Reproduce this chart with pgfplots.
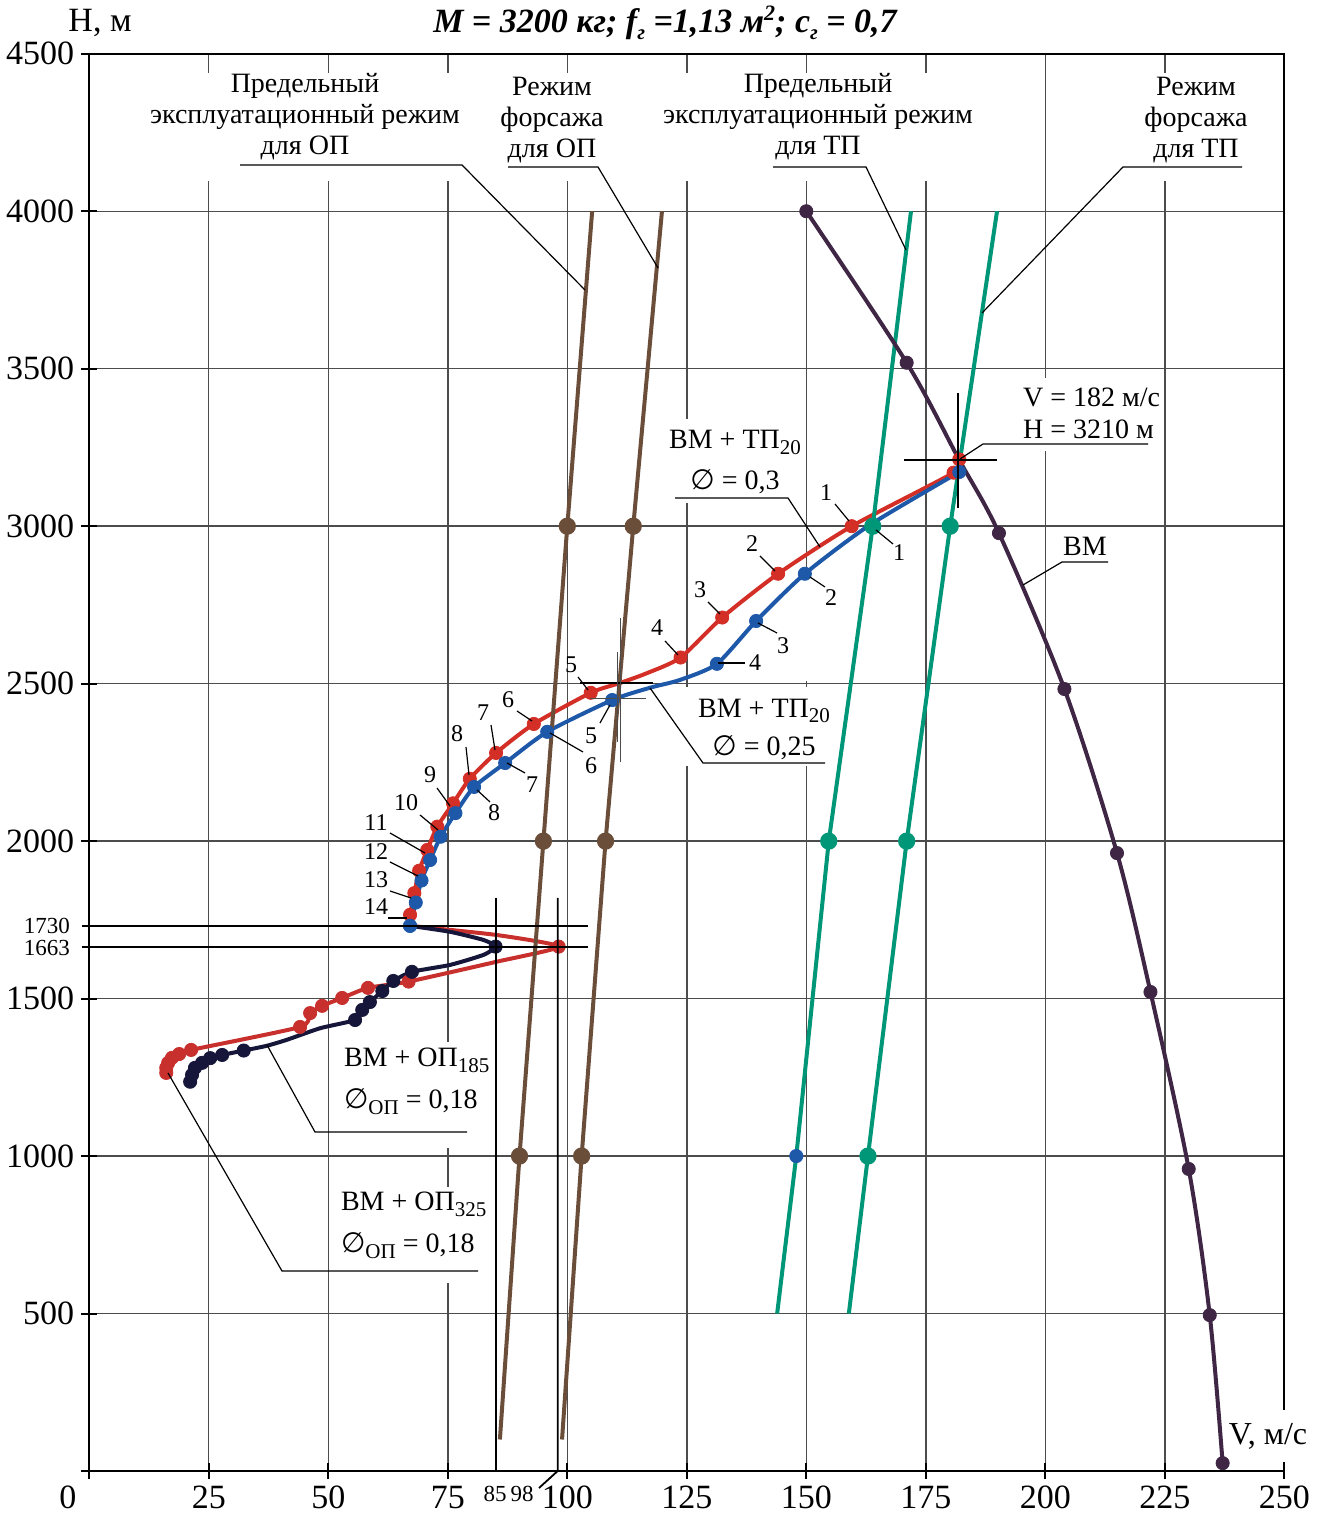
\documentclass[border=0pt]{standalone}
\usepackage{fontspec}
\setmainfont{Liberation Serif}
\newfontfamily\dejavu{DejaVu Sans}
\usepackage{pgfplots}
\pgfplotsset{compat=1.18}
\definecolor{cRed}{RGB}{211,47,38}
\definecolor{cRedB}{RGB}{200,48,45}
\definecolor{cBlue}{RGB}{30,88,168}
\definecolor{cTeal}{RGB}{0,150,120}
\definecolor{cBrown}{RGB}{107,78,58}
\definecolor{cVM}{RGB}{62,38,68}
\definecolor{cNavy}{RGB}{22,22,58}
\newcommand{\fs}[1]{\fontsize{#1}{#1}\selectfont}
\newcommand{\sub}[1]{\raisebox{-0.45ex}{\fontsize{10.5}{10.5}\selectfont #1}}
\newcommand{\sups}[1]{\raisebox{0.75ex}{\fontsize{11}{11}\selectfont #1}}
\newcommand{\diam}{{\dejavu ∅}}
\begin{document}
\begin{tikzpicture}
\begin{axis}[
  scale only axis, width=597.5pt, height=708.6pt,
  xmin=0, xmax=250, ymin=0, ymax=4500,
  xtick={0,25,...,250}, ytick={0,500,...,4500},
  xticklabels={,25,50,75,100,125,150,175,200,225,250},
  yticklabels={,500,1000,1500,2000,2500,3000,3500,4000,4500},
  xtick pos=left, ytick pos=left,
  tick align=center, major tick length=8pt,
  tick style={black, line width=1pt},
  grid=major, major grid style={line width=0.7pt, color=black!70},
  axis line style={line width=1pt, black},
  tick label style={font=\fs{17}},
  clip=false,
  every axis plot/.append style={mark size=3.3pt},
]
% gaps in the grid behind the labels
\fill[white] (axis cs:15,4095) rectangle (axis cs:185,4440);
\fill[white] (axis cs:215,4095) rectangle (axis cs:235,4440);
\fill[white] (axis cs:195,3240) rectangle (axis cs:205,3470);
\fill[white] (axis cs:122,3074) rectangle (axis cs:128,3340);
\fill[white] (axis cs:122,2240) rectangle (axis cs:128,2490);
\fill[white] (axis cs:147,2240) rectangle (axis cs:153,2490);
\fill[white] (axis cs:147,2510) rectangle (axis cs:153,2835);
\fill[white] (axis cs:72,1026) rectangle (axis cs:78,1362);
\fill[white] (axis cs:72,597) rectangle (axis cs:78,902);
\fill[white] (axis cs:246,29) rectangle (axis cs:254,194);
\coordinate (O) at (axis cs:0,0);

% BM + TP20, d = 0.3 (red)
\addplot[cRed, line width=2pt, smooth, tension=0.4] coordinates {
 (182,3212)(180.8,3170)(159.5,3000)(144.1,2849)(132.4,2710)(123.7,2583)
 (116.6,2533)(111,2502)(104.9,2471)(93.0,2372)(85.1,2280)(79.6,2198)
 (76.1,2120)(72.8,2046)(70.7,1972)(69.0,1906)(68.0,1835)(67.1,1766)(66.9,1735)};
\addplot[only marks, mark=*, cRed] coordinates {
 (182,3212)(180.8,3170)(159.5,3000)(144.1,2849)(132.4,2710)(123.7,2583)
 (104.9,2471)(93.0,2372)(85.1,2280)(79.6,2198)(76.1,2120)(72.8,2046)
 (70.7,1972)(69.0,1906)(68.0,1835)(67.1,1766)};

% BM + TP20, d = 0.25 (blue)
\addplot[cBlue, line width=2pt, smooth, tension=0.4] coordinates {
 (182,3172)(163.3,3004)(149.7,2849)(139.5,2699)(131.3,2563)(123.6,2512)
 (117.3,2487)(109.4,2448)(95.8,2347)(87.0,2248)(80.5,2172)(76.6,2089)
 (73.5,2014)(71.3,1940)(69.5,1875)(68.3,1805)(67.1,1731)};
\addplot[only marks, mark=*, cBlue] coordinates {
 (182,3172)(149.7,2849)(139.5,2699)(131.3,2563)(109.4,2448)(95.8,2347)
 (87.0,2248)(80.5,2172)(76.6,2089)(73.5,2014)(71.3,1940)(69.5,1875)
 (68.3,1805)(67.1,1731)};

% BM + OP325 (red, lower)
\addplot[cRedB, line width=2pt, smooth, tension=0.35] coordinates {
 (67.1,1731)(85.2,1702)(98.2,1665)(85.2,1617)(66.8,1554)(58.3,1534)
 (52.9,1502)(48.7,1477)(46.2,1454)(44.1,1410)(21.3,1337)(18.8,1324)
 (17.3,1312)(16.5,1296)(16.1,1280)(16.1,1264)};
\addplot[only marks, mark=*, cRedB] coordinates {
 (98.2,1665)(66.8,1554)(58.3,1534)(52.9,1502)(48.7,1477)(46.2,1454)
 (44.1,1410)(21.3,1337)(18.8,1324)(17.3,1312)(16.5,1296)(16.1,1280)(16.1,1264)};

% BM + OP185 (navy)
\addplot[cNavy, line width=2pt, smooth, tension=0.35] coordinates {
 (67.1,1731)(75.5,1712)(82.5,1686)(85,1665)(82.5,1639)(75.5,1607)
 (67.5,1585)(63.6,1556)(61.3,1524)(58.7,1489)(57.1,1464)(55.6,1432)
 (48.3,1406)(41.3,1369)(37.1,1350)(32.3,1335)(27.8,1321)(25.3,1311)(23.6,1296)
 (22.1,1280)(21.5,1258)(21.1,1236)};
\addplot[only marks, mark=*, cNavy] coordinates {
 (85,1665)(67.5,1585)(63.6,1556)(61.3,1524)(58.7,1489)(57.1,1464)(55.6,1432)
 (32.3,1335)(27.8,1321)(25.3,1311)(23.6,1296)(22.1,1280)(21.5,1258)(21.1,1236)};
\addplot[only marks, mark=*, cBlue] coordinates {(67.1,1731)};

% OP lines (brown)
\addplot[cBrown, line width=2pt, mark=*, mark indices={2,3,4}]
 coordinates {(85.9,100)(90,1000)(95,2000)(100,3000)(105.2,4000)};
\addplot[cBrown, line width=2pt, mark=*, mark indices={2,3,4}]
 coordinates {(98.9,100)(103,1000)(108,2000)(113.8,3000)(119.8,4000)};

% TP lines (teal)
\addplot[only marks, mark=*, cBlue] coordinates {(147.9,1000)};
\addplot[cTeal, line width=2pt, mark=*, mark indices={3,4}]
 coordinates {(143.9,500)(147.9,1000)(154.7,2000)(163.9,3000)(171.9,4000)};
\addplot[cTeal, line width=2pt, mark=*, mark indices={2,3,4}]
 coordinates {(158.9,500)(162.9,1000)(171,2000)(180.1,3000)(189.9,4000)};

% BM
\addplot[cVM, line width=2pt, smooth] coordinates {
 (150,4000)(171,3519)(181.9,3213)(190.3,2978)(204,2483)(215,1962)
 (222,1521)(230,959)(234.4,495)(237.1,25)};
\addplot[only marks, mark=*, cVM] coordinates {
 (150,4000)(171,3519)(190.3,2978)(204,2483)(215,1962)(222,1521)
 (230,959)(234.4,495)(237.1,25)};
\end{axis}

\begin{scope}[shift={(O)}, xshift=-44.65pt, yshift=735.5pt, x=0.5pt, y=-0.5pt]
 % axis titles and title
 \node[font=\fs{17}] at (100,23) {H, м};
 \node[font=\fs{17}\bfseries\itshape] at (665,23) {M = 3200 кг; f\sub{г} =1,13 м\sups{2}; c\sub{г} = 0,7};
 \node[font=\fs{16}] at (1268,1436) {V, м/с};
 \node[font=\fs{17}] at (68,1497) {0};
 \node[font=\fs{11.5}] at (77,926) [anchor=east] {1730};
 \node[font=\fs{11.5}] at (77,948) [anchor=east] {1663};
 \node[font=\fs{11.5}] at (495,1494) {85};
 \node[font=\fs{11.5}] at (522,1494) {98};
 % reference lines
 \draw[line width=0.9pt] (82,926.2) -- (588,926.2);
 \draw[line width=0.9pt] (82,947.3) -- (588,947.3);
 \draw[line width=0.9pt] (495.6,898) -- (495.6,1471);
 \draw[line width=0.9pt] (557.7,898) -- (557.7,1471) -- (539,1488);
 % crosses
 \draw[line width=1.2pt] (904,460) -- (997,460);
 \draw[line width=1.2pt] (958,393) -- (958,508);
 \draw[line width=1.2pt] (580,683) -- (653,683);
 \draw[line width=0.5pt, black!70] (620,618) -- (620,762);
 \draw[line width=0.5pt, black!70] (617,652) -- (617,742);
 \draw[line width=0.5pt, black!70] (590,699) -- (646,699);
 % header labels
 \begin{scope}[every node/.style={font=\fontsize{14}{15.5}\selectfont, align=center}]
  \node at (305,117) {Предельный\\эксплуатационный режим\\для ОП};
  \node at (552,120) {Режим\\форсажа\\для ОП};
  \node at (818,117) {Предельный\\эксплуатационный режим\\для ТП};
  \node at (1196,120) {Режим\\форсажа\\для ТП};
 \end{scope}
 \draw[line width=0.6pt] (240,165) -- (462,165) -- (585,290);
 \draw[line width=0.6pt] (508,167) -- (598,167) -- (658,268);
 \draw[line width=0.6pt] (773,167) -- (866,167) -- (906,250);
 \draw[line width=0.6pt] (1242,167) -- (1123,167) -- (982,313);
 % curve labels
 \node[font=\fontsize{14}{20.5}\selectfont, align=center] at (735,462) {ВМ + ТП\sub{20}\\\diam\ = 0,3};
 \node[font=\fontsize{14}{19}\selectfont, align=center] at (764,729) {ВМ + ТП\sub{20}\\\diam\ = 0,25};
 \node[font=\fontsize{14}{16}\selectfont, align=left, anchor=west] at (1016,413) {V = 182 м/с\\H = 3210 м};
 \node[font=\fs{14}] at (1085,546) {ВМ};
 \node[font=\fontsize{14}{21}\selectfont, align=left, anchor=west] at (337,1081) {ВМ + ОП\sub{185}\\\diam\sub{ОП} = 0,18};
 \node[font=\fontsize{14}{21}\selectfont, align=left, anchor=west] at (334,1225) {ВМ + ОП\sub{325}\\\diam\sub{ОП} = 0,18};
 \draw[line width=0.6pt] (675,498) -- (788,498) -- (820,547);
 \draw[line width=0.6pt] (825,763) -- (703,763) -- (650,688);
 \draw[line width=0.6pt] (1148,444) -- (983,444) -- (960,459);
 \draw[line width=0.6pt] (1108,562) -- (1062,562) -- (1023,585);
 \draw[line width=0.6pt] (467,1132) -- (315,1132) -- (267,1045);
 \draw[line width=0.6pt] (478,1271) -- (282,1271) -- (168,1073);
 % point numbers
 \begin{scope}[every node/.style={font=\fs{12}, inner sep=0pt}]
  \node at (826,493) {1}; \draw[line width=0.6pt] (835,504) -- (849,521);
  \node at (752,544) {2}; \draw[line width=0.6pt] (760,556) -- (775,571);
  \node at (700,590) {3}; \draw[line width=0.6pt] (708,602) -- (720,614);
  \node at (657,628) {4}; \draw[line width=0.6pt] (665,641) -- (678,655);
  \node at (571,665) {5}; \draw[line width=0.6pt] (578,677) -- (588,690);
  \node at (508,700) {6}; \draw[line width=0.6pt] (517,711) -- (532,721);
  \node at (483,713) {7}; \draw[line width=0.6pt] (491,725) -- (495,750);
  \node at (457,734) {8}; \draw[line width=0.6pt] (466,747) -- (469,775);
  \node at (430,775) {9}; \draw[line width=0.6pt] (437,788) -- (450,806);
  \node at (406,803) {10}; \draw[line width=0.6pt] (420,815) -- (438,830);
  \node at (376,823) {11}; \draw[line width=0.6pt] (390,833) -- (425,853);
  \node at (376,852) {12}; \draw[line width=0.6pt] (390,862) -- (418,876);
  \node at (376,880) {13}; \draw[line width=0.6pt] (390,891) -- (411,898);
  \node at (376,907) {14}; \draw[line width=0.6pt] (388,918) -- (407,918);
  \node at (899,553) {1}; \draw[line width=0.6pt] (876,530) -- (893,544);
  \node at (831,598) {2}; \draw[line width=0.6pt] (810,577) -- (825,587);
  \node at (783,646) {3}; \draw[line width=0.6pt] (758,623) -- (777,633);
  \node at (755,663) {4}; \draw[line width=0.6pt] (718,663) -- (745,663);
  \node at (591,736) {5}; \draw[line width=0.6pt] (600,723) -- (610,705);
  \node at (591,766) {6}; \draw[line width=0.6pt] (550,733) -- (583,752);
  \node at (532,785) {7}; \draw[line width=0.6pt] (507,763) -- (525,773);
  \node at (494,813) {8}; \draw[line width=0.6pt] (477,790) -- (490,802);
 \end{scope}
 \pgfresetboundingbox
 \path[use as bounding box] (0,0) rectangle (1326,1515);
\end{scope}
\end{tikzpicture}
\end{document}
